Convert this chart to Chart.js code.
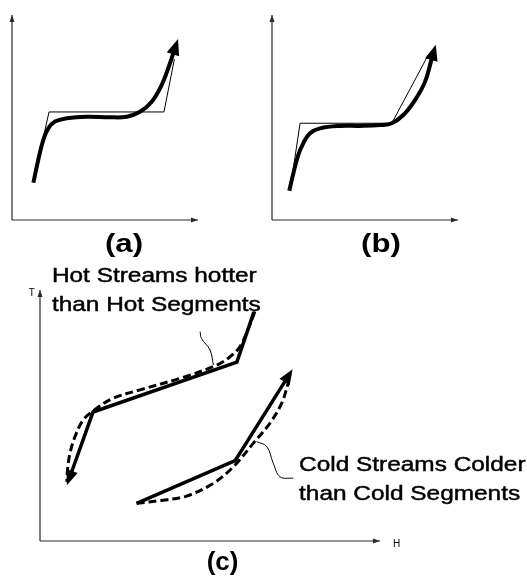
<!DOCTYPE html>
<html><head><meta charset="utf-8">
<script src="https://cdn.jsdelivr.net/npm/chart.js@4/dist/chart.umd.min.js"></script>
<style>
html,body{margin:0;padding:0;background:#fff;width:527px;height:576px;overflow:hidden;position:relative}
canvas{position:absolute}
</style></head><body>
<canvas id="pa" width="260" height="260" style="left:0;top:0"></canvas>
<canvas id="pb" width="267" height="260" style="left:260px;top:0"></canvas>
<canvas id="pc" width="527" height="316" style="left:0;top:260px"></canvas>
<script>
// Axis extent shared by all three panels (H along x, T along y)
const axisSpan = [0, 100];

// (a) composite curve and its straight-segment approximation
const aSegH = [11.5, 19.9, 81.7, 87.3];
const aSegT = [18.2, 52.7, 52.7, 78.5];
const aCurveH = [11.5, 14.1, 16.8, 19.5, 23.1, 29.4, 40.2, 52.7, 61.7, 68.8, 75.1, 80.5, 84.0, 86.7];
const aCurveT = [18.2, 29.3, 39.0, 44.7, 48.0, 49.6, 50.4, 50.1, 50.4, 52.8, 57.7, 65.9, 74.0, 81.3];

// (b) same curve with segments placed on the curve
const bSegH = [9.7, 15.1, 64.4, 84.0];
const bSegT = [14.6, 47.2, 47.2, 80.5];
const bCurveH = [9.3, 11.5, 14.1, 16.8, 20.4, 25.8, 36.6, 47.3, 58.1, 64.4, 70.6, 76.9, 82.3, 85.8];
const bCurveT = [14.3, 22.8, 31.7, 37.4, 42.3, 44.7, 45.9, 45.9, 46.3, 47.2, 51.2, 58.5, 67.5, 78.5];

// (c) hot / cold segments (solid) and streams (dashed)
const hotSegH = [62.9, 57.9, 15.6, 9.3];
const hotSegT = [91.2, 71.3, 51.4, 27.5];
const hotStreamH = [63.2, 61.3, 58.8, 55.9, 52.0, 42.1, 29.4, 21.6, 16.7, 12.7, 10.3, 8.8, 8.1, 7.9];
const hotStreamT = [91.4, 84.7, 77.4, 73.4, 70.1, 65.2, 60.2, 56.9, 52.9, 48.2, 41.6, 34.9, 28.3, 23.6];
const coldSegH = [28.4, 57.4, 72.1];
const coldSegT = [15.0, 32.0, 63.7];
const coldStreamH = [28.4, 35.3, 43.1, 51.0, 56.9, 62.7, 67.6, 71.1, 73.0];
const coldStreamT = [15.0, 16.1, 17.9, 23.0, 29.6, 38.9, 46.9, 54.9, 62.9];
const hotLeaderH = [47.1, 47.5, 50.0, 51.0];
const hotLeaderT = [83.4, 80.7, 76.1, 70.1];
const coldLeaderH = [63.7, 66.7, 68.6, 70.6, 74.5];
const coldLeaderT = [39.6, 37.6, 31.0, 25.6, 25.0];

const hotLabel = ['Hot Streams hotter', 'than Hot Segments'];
const coldLabel = ['Cold Streams Colder', 'than Cold Segments'];
const panelLabels = ['(a)', '(b)', '(c)'];

const zip = (hs, ts) => hs.map((h, i) => ({x: h, y: ts[i]}));

// Draws arrowheads on flagged datasets and free text notes in data coordinates
const pathDecor = {
  id: 'pathDecor',
  afterDatasetsDraw(chart, args, opts) {
    const {ctx} = chart;
    const sx = chart.scales.x, sy = chart.scales.y;
    chart.data.datasets.forEach(ds => {
      if (!ds.arrow) return;
      const pts = ds.data, n = pts.length;
      const x1 = sx.getPixelForValue(pts[n - 2].x), y1 = sy.getPixelForValue(pts[n - 2].y);
      const x2 = sx.getPixelForValue(pts[n - 1].x), y2 = sy.getPixelForValue(pts[n - 1].y);
      const ang = Math.atan2(y2 - y1, x2 - x1);
      const {len, wid, at} = ds.arrow;
      ctx.save();
      ctx.translate(x2, y2);
      ctx.rotate(ang);
      const back = at === 'tip' ? -len : -1;
      ctx.beginPath();
      ctx.moveTo(back + len + (at === 'tip' ? 0 : 1), 0);
      ctx.lineTo(back, -wid / 2);
      ctx.lineTo(back, wid / 2);
      ctx.closePath();
      ctx.fillStyle = ds.borderColor;
      ctx.fill();
      ctx.restore();
    });
    (opts.notes || []).forEach(nt => {
      ctx.save();
      ctx.font = nt.font;
      ctx.fillStyle = '#000';
      ctx.strokeStyle = '#000';
      ctx.lineWidth = nt.weight || 0;
      ctx.textBaseline = 'alphabetic';
      ctx.textAlign = nt.align || 'left';
      ctx.translate(sx.getPixelForValue(nt.x), sy.getPixelForValue(nt.y));
      ctx.scale(nt.sx || 1, 1);
      ctx.fillText(nt.text, 0, 0);
      if (nt.weight) ctx.strokeText(nt.text, 0, 0);
      ctx.restore();
    });
  }
};

function axes(col) {
  const a = {len: 7, wid: 5, at: 'tip'};
  return [
    {data: [{x: axisSpan[0], y: axisSpan[0]}, {x: axisSpan[1], y: axisSpan[0]}], borderColor: col, borderWidth: 1.2, arrow: a},
    {data: [{x: axisSpan[0], y: axisSpan[0]}, {x: axisSpan[0], y: axisSpan[1]}], borderColor: col, borderWidth: 1.2, arrow: a}
  ];
}

function makeChart(id, datasets, padding, notes) {
  return new Chart(document.getElementById(id), {
    type: 'scatter',
    data: {datasets: datasets.map(d => Object.assign({showLine: true, pointRadius: 0, pointHoverRadius: 0, clip: false, tension: 0, fill: false}, d))},
    options: {
      responsive: false,
      devicePixelRatio: 1,
      animation: false,
      events: [],
      layout: {padding},
      scales: {
        x: {type: 'linear', min: axisSpan[0], max: axisSpan[1], display: false},
        y: {type: 'linear', min: axisSpan[0], max: axisSpan[1], display: false}
      },
      plugins: {legend: {display: false}, tooltip: {enabled: false}, pathDecor: {notes}}
    },
    plugins: [pathDecor]
  });
}

const axisCol = '#2a2a2a';
const labelFont = 'bold 26px "Liberation Sans", Arial, sans-serif';
const textFont = '20px "Liberation Sans", Arial, sans-serif';
const smallFont = '10px "Liberation Sans", Arial, sans-serif';

makeChart('pa', [
  ...axes(axisCol),
  {data: zip(aSegH, aSegT), borderColor: '#000', borderWidth: 1},
  {data: zip(aCurveH, aCurveT), borderColor: '#000', borderWidth: 4, tension: 0.4, arrow: {len: 15, wid: 13, at: 'base'}}
], {left: 12, top: 15, right: 62, bottom: 40}, [
  {text: panelLabels[0], x: 60.2, y: -15.6, font: labelFont, align: 'center', sx: 1.2}
]);

makeChart('pb', [
  ...axes(axisCol),
  {data: zip(bSegH, bSegT), borderColor: '#000', borderWidth: 1},
  {data: zip(bCurveH, bCurveT), borderColor: '#000', borderWidth: 4, tension: 0.4, arrow: {len: 15, wid: 13, at: 'base'}}
], {left: 12, top: 15, right: 69, bottom: 40}, [
  {text: panelLabels[1], x: 58.6, y: -15.6, font: labelFont, align: 'center', sx: 1.2}
]);

makeChart('pc', [
  ...axes(axisCol),
  {data: zip(hotLeaderH, hotLeaderT), borderColor: '#000', borderWidth: 1, tension: 0.4},
  {data: zip(coldLeaderH, coldLeaderT), borderColor: '#000', borderWidth: 1, tension: 0.4},
  {data: zip(hotStreamH, hotStreamT), borderColor: '#000', borderWidth: 3, borderDash: [8, 4], tension: 0.35},
  {data: zip(coldStreamH, coldStreamT), borderColor: '#000', borderWidth: 3, borderDash: [8, 4], tension: 0.35},
  {data: zip(hotSegH, hotSegT), borderColor: '#000', borderWidth: 3.5, arrow: {len: 14, wid: 12, at: 'base'}},
  {data: zip(coldSegH, coldSegT), borderColor: '#000', borderWidth: 3.5, arrow: {len: 14, wid: 12, at: 'base'}}
], {left: 40, top: 30, right: 147, bottom: 35}, [
  {text: hotLabel[0], x: 3.5, y: 103.2, font: textFont, sx: 1.22, weight: 0.45},
  {text: hotLabel[1], x: 3.5, y: 91.6, font: textFont, sx: 1.22, weight: 0.45},
  {text: coldLabel[0], x: 76.2, y: 27.9, font: textFont, sx: 1.22, weight: 0.45},
  {text: coldLabel[1], x: 76.2, y: 16.3, font: textFont, sx: 1.22, weight: 0.45},
  {text: panelLabels[2], x: 53.7, y: -11.6, font: labelFont, align: 'center', sx: 1.0},
  {text: 'T', x: -1.5, y: 97.8, font: smallFont, align: 'right'},
  {text: 'H', x: 103.8, y: -2.4, font: smallFont}
]);
</script>
</body></html>
